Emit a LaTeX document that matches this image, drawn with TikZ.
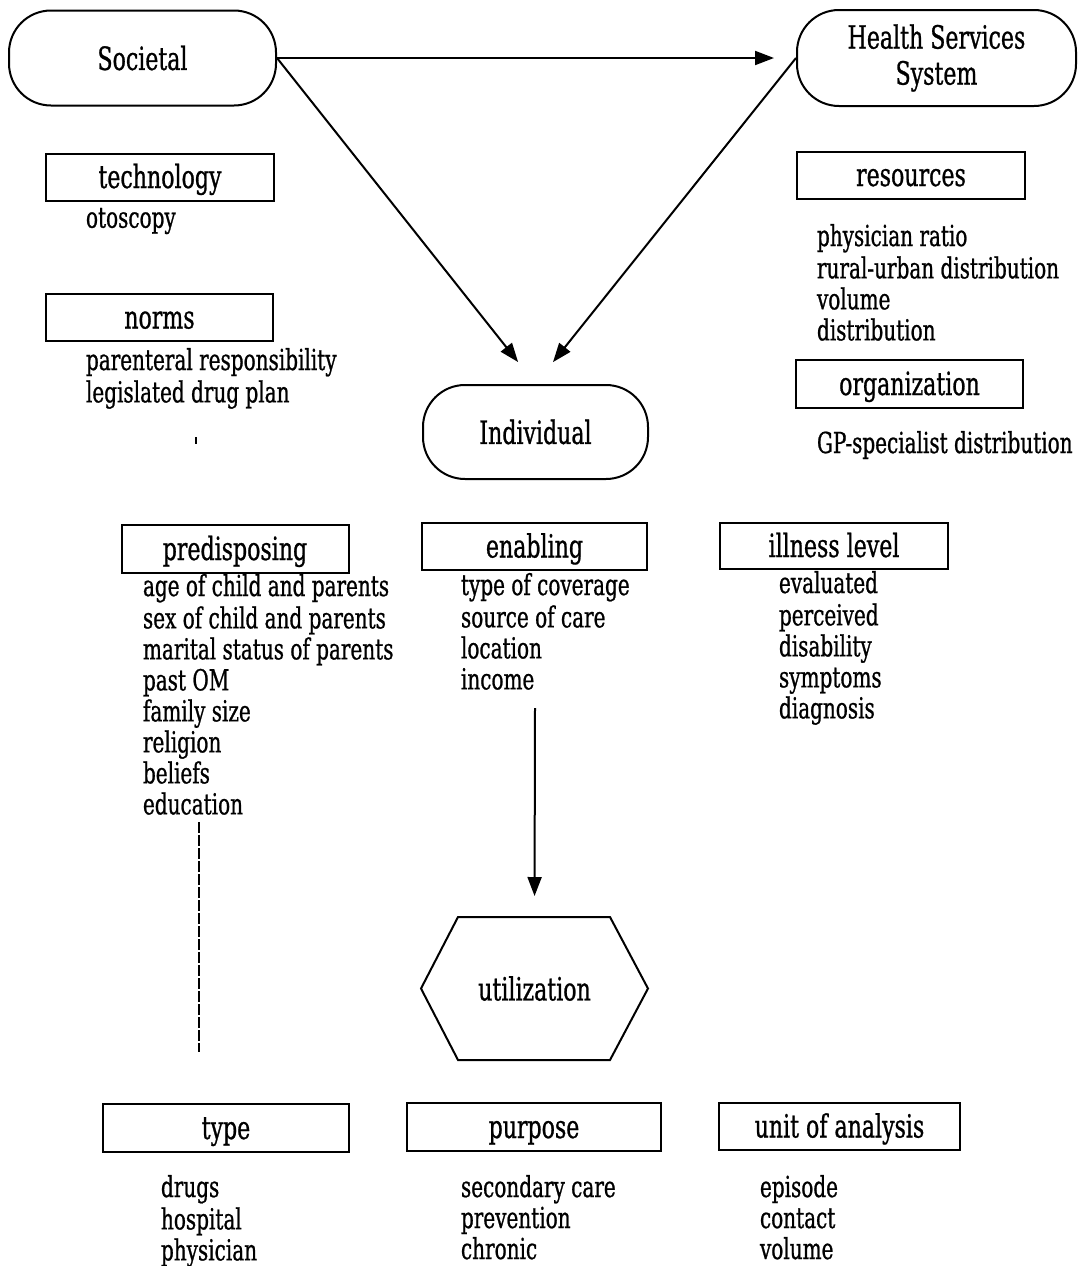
\documentclass[tikz,border=0pt]{standalone}
\usepackage{fontspec}
\setmainfont{DejaVu Serif}[FakeStretch=0.69, FakeBold=0.8]
\usetikzlibrary{arrows.meta,calc,positioning}
\newcommand{\headfont}{\fontsize{32}{36}\selectfont}
\newcommand{\listfont}{\fontsize{29}{31}\selectfont}
\tikzset
{
    stadium/.style  = {draw, rounded corners=42pt, align=center, inner sep=0pt, font=\headfont},
    catbox/.style   = {draw, inner sep=0pt, text height=28pt, text depth=6pt, font=\headfont},
    itemlist/.style = {align=left, anchor=north west, inner sep=0pt, font=\listfont}
}

\begin{document}
\begin{tikzpicture}[x=1pt, y=-1pt, line width=2pt, >={Triangle[length=19pt,width=14pt]}]
    \useasboundingbox (0,0) rectangle (1082,1266);

    % levels
    \node [stadium, minimum width=267pt, minimum height=95pt] (soc) at (142.5,58) {Societal};
    \node [stadium, minimum width=279pt, minimum height=96pt] (hss) at (936.5,58) {Health Services\\System};
    \node [stadium, minimum width=225pt, minimum height=94pt] (ind) at (535.5,432) {Individual};

    % societal
    \node [catbox, minimum width=228pt, minimum height=47pt] (tech) at (160,177) {technology};
    \node [itemlist] (techlist) at (85,205) {\strut otoscopy};
    \node [catbox, minimum width=227pt, minimum height=47pt] (norms) at (159.5,317.5) {norms};
    \node [itemlist] (normslist) at (85,347) {\strut parenteral responsibility\\legislated drug plan};

    % health services system
    \node [catbox, minimum width=228pt, minimum height=47pt] (res) at (911,175) {resources};
    \node [itemlist] (reslist) at (816,223) {\strut physician ratio\\rural-urban distribution\\volume\\distribution};
    \node [catbox, minimum width=227pt, minimum height=48pt] (org) at (909.5,384) {organization};
    \node [itemlist] (orglist) at (816,430) {\strut GP-specialist distribution};

    % individual
    \node [catbox, minimum width=227pt, minimum height=48pt] (pre) at (235,549) {predisposing};
    \node [itemlist] (prelist) at (142,573) {\strut age of child and parents\\sex of child and parents\\marital status of parents\\past OM\\family size\\religion\\beliefs\\education};
    \node [catbox, minimum width=225pt, minimum height=47pt] (enab) at (534.5,546.5) {enabling};
    \node [itemlist] (enablist) at (460,572) {\strut type of coverage\\source of care\\location\\income};
    \node [catbox, minimum width=228pt, minimum height=46pt] (ill) at (834,546) {illness level};
    \node [itemlist] (illlist) at (778,570) {\strut evaluated\\perceived\\disability\\symptoms\\diagnosis};

    % utilization
    \node [font=\headfont, minimum width=225pt, minimum height=141pt, inner sep=0pt] (util) at (534.5,988.5) {utilization};
    \draw (util.west) -- ($(util.north west)+(37,0)$) -- ($(util.north east)+(-38,0)$) -- (util.east)
        -- ($(util.south east)+(-38,0)$) -- ($(util.south west)+(37,0)$) -- cycle;

    \node [catbox, minimum width=246pt, minimum height=48pt] (type) at (226,1128) {type};
    \node [itemlist] (typelist) at (160,1174) {\strut drugs\\hospital\\physician};
    \node [catbox, minimum width=254pt, minimum height=48pt] (purp) at (534,1127) {purpose};
    \node [itemlist] (purplist) at (460,1174) {\strut secondary care\\prevention\\chronic};
    \node [catbox, minimum width=241pt, minimum height=47pt] (unit) at (839.5,1126.5) {unit of analysis};
    \node [itemlist] (unitlist) at (759,1174) {\strut episode\\contact\\volume};

    % connectors
    \draw [->, shorten >=22pt] (soc.east) -- (hss.west);
    \draw [->, shorten >=28pt] (soc.east) -- (ind.north);
    \draw [->, shorten >=28pt] (hss.west) -- (ind.north);
    \coordinate (enabtail) at (535,708);
    \draw [->, shorten >=21pt] (enabtail) -- (util.north);
    \coordinate (dashtop) at (199,822);
    \coordinate (dashbot) at (199,1052);
    \draw [line width=1.4pt, dash pattern=on 11pt off 2pt] (dashtop) -- (dashbot);
    \coordinate (tick) at (196,437);
    \draw [line width=2pt] (tick) -- ++(0,7);
\end{tikzpicture}
\end{document}
